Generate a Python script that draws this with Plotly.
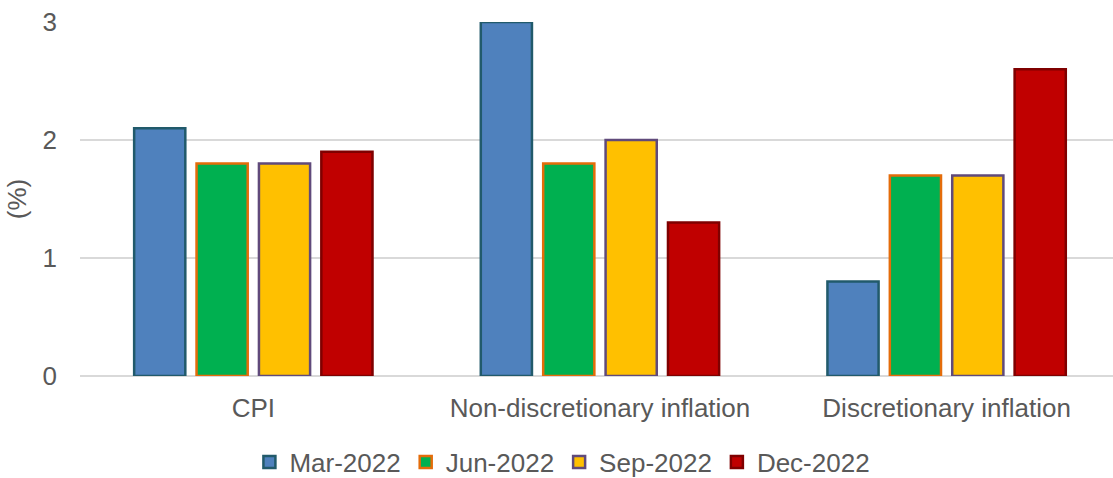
import plotly.graph_objects as go

categories = ["CPI", "Non-discretionary inflation", "Discretionary inflation"]
series_names = ["Mar-2022", "Jun-2022", "Sep-2022", "Dec-2022"]
mar_2022 = [2.1, 3.0, 0.8]
jun_2022 = [1.8, 1.8, 1.7]
sep_2022 = [1.8, 2.0, 1.7]
dec_2022 = [1.9, 1.3, 2.6]
y_ticks = [0, 1, 2, 3]

fills = ["#4F81BD", "#00B050", "#FFC000", "#C00000"]
borders = ["#215A6B", "#E46C0A", "#604A7B", "#7F0000"]

FONT = "Liberation Sans, Arial, sans-serif"
TXT = "#595959"
FS = 26

fig = go.Figure()
for name, vals, fc, bc in zip(series_names, [mar_2022, jun_2022, sep_2022, dec_2022], fills, borders):
    fig.add_trace(go.Bar(
        x=categories, y=vals, name=name,
        marker=dict(color=fc, line=dict(color=bc, width=2.5)),
    ))

fig.update_layout(
    width=1113, height=478,
    margin=dict(l=80, r=0, t=22, b=102, autoexpand=False),
    paper_bgcolor="white", plot_bgcolor="white",
    font=dict(family=FONT, size=FS, color=TXT),
    barmode="group", bargap=0.28, bargroupgap=0.18,
    showlegend=True,
    legend=dict(orientation="h", x=0.467, xanchor="center", y=-0.243, yanchor="middle",
                font=dict(size=FS, color=TXT), itemwidth=30, tracegroupgap=0),
    xaxis=dict(range=[-0.5, 2.48], showgrid=False, showline=False, ticks="",
               ticklabelstandoff=14, automargin=False,
               tickfont=dict(size=FS, color=TXT)),
    yaxis=dict(range=[0, 3], tickvals=y_ticks, showgrid=True, gridcolor="#D9D9D9", gridwidth=1.5,
               zeroline=True, zerolinecolor="#D9D9D9", zerolinewidth=1.5,
               showline=False, ticks="", ticklabelstandoff=22, automargin=True,
               title=dict(text="(%)", standoff=8, font=dict(size=FS, color=TXT)),
               tickfont=dict(size=FS, color=TXT)),
)

fig.write_html("out.html")
